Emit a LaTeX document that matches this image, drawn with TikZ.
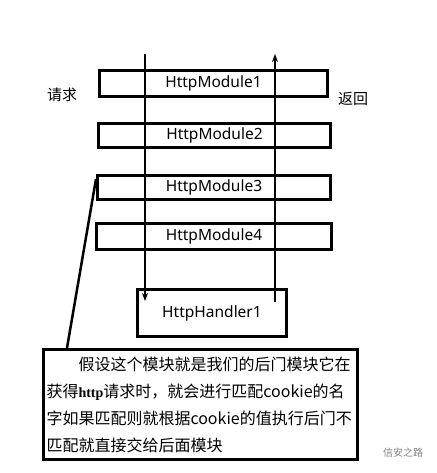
\documentclass[tikz,border=0pt]{standalone}
\usepackage{fontspec}
\usepackage{tikz}
\usetikzlibrary{arrows.meta}
\setmainfont{Noto Sans CJK SC}
\newfontfamily\latfont{Noto Sans}
\newfontfamily\serfont{Liberation Serif}

\begin{document}
\begin{tikzpicture}[x=1pt, y=-1pt, >={Stealth[length=8pt,width=6pt]},
	modbox/.style={draw, line width=3pt, inner sep=0pt, font=\latfont\fontsize{15.5}{18}\selectfont},
	flow/.style={->, line width=2pt}]
	\useasboundingbox (0,0) rectangle (436,473);

	\node[modbox, minimum width=228pt, minimum height=26pt] (m_1) at (213.5, 83.5) {HttpModule1};
	\node[modbox, minimum width=232pt, minimum height=24pt] (m_2) at (214.5, 135.5) {HttpModule2};
	\node[modbox, minimum width=233pt, minimum height=24pt] (m_3) at (214, 187.5) {HttpModule3};
	\node[modbox, minimum width=235pt, minimum height=26pt] (m_4) at (214, 236.5) {HttpModule4};
	\node[modbox, minimum width=149pt, minimum height=47pt] (h_1) at (212, 313) {HttpHandler1};

	\node[font=\fontsize{15}{18}\selectfont] (req) at (62, 95) {请求};
	\node[font=\fontsize{15}{18}\selectfont] (ret) at (353, 99) {返回};

	\coordinate (req_in) at (145, 54);
	\coordinate (req_out) at (145, 301);
	\coordinate (ret_in) at (275, 302);
	\coordinate (ret_out) at (275, 54);
	\draw[flow] (req_in) to (req_out);
	\draw[flow] (ret_in) to (ret_out);

	\node[draw, line width=3pt, inner sep=3pt, text width=308pt, minimum height=110pt, align=left,
		font=\fontsize{16}{27}\selectfont] (note) at (200.5, 404.5)
		{\hspace*{2em}假设这个模块就是我们的后门模块它在\\
		获得{\serfont\bfseries\fontsize{14}{27}\selectfont http}请求时，就会进行匹配cookie的名\\
		字如果匹配则就根据cookie的值执行后门不\\
		匹配就直接交给后面模块};

	\draw[line width=2.5pt] ([yshift=-5pt]m_3.north west) to ([xshift=25pt]note.north west);

	\node[text=gray, font=\fontsize{10}{12}\selectfont] (mark) at (403, 453) {信安之路};
\end{tikzpicture}
\end{document}
